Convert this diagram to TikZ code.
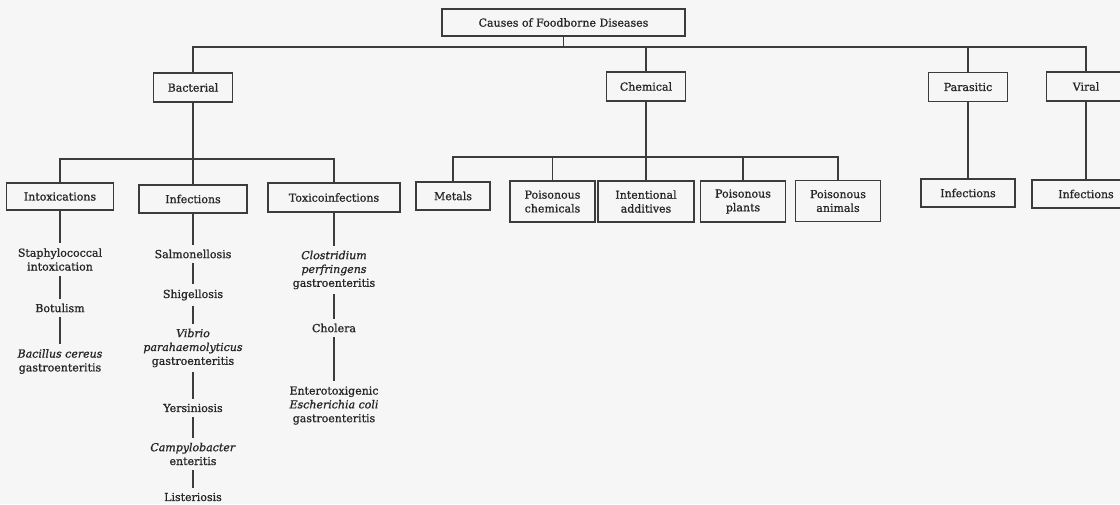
\documentclass[tikz,border=0pt]{standalone}
\usepackage{fontspec}
\setmainfont{DejaVu Serif}[FakeBold=1]
\definecolor{ln}{HTML}{3C3C3C}
\definecolor{txt}{HTML}{262626}
\definecolor{bg}{HTML}{F6F6F6}
\begin{document}
\begin{tikzpicture}[x=1pt,y=-1pt,
  every node/.style={font=\fontsize{11}{13.8}\selectfont, text=txt},
  box/.style={draw=ln, line width=1.1pt, fill=bg, minimum height=28pt, inner sep=0pt, align=center},
  box2/.style={box, minimum height=41pt},
  leaf/.style={align=center, inner xsep=2pt, inner ysep=5pt},
  conn/.style={draw=ln, line width=1.1pt}]
\fill[bg] (0,0) rectangle (1120,504);
\useasboundingbox (0,0) rectangle (1120,504);
% level 0 and 1
\node[box, minimum width=243pt, minimum height=27pt] (top) at (563.5,22.5) {Causes of Foodborne Diseases};
\node[box, minimum width=79pt, minimum height=29pt] (bact) at (193,87.5) {Bacterial};
\node[box, minimum width=79pt, minimum height=29pt] (chem) at (646,86.5) {Chemical};
\node[box, minimum width=79pt, minimum height=29pt] (para) at (968,87) {Parasitic};
\node[box, minimum width=79pt, minimum height=29pt] (viral) at (1086,86.5) {Viral};
% level 2
\node[box, minimum width=107pt, minimum height=27pt] (intox) at (60,196.5) {Intoxications};
\node[box, minimum width=108pt] (inf) at (193,199) {Infections};
\node[box, minimum width=132pt, minimum height=29pt] (toxi) at (334,197.5) {Toxicoinfections};
\node[box, minimum width=74pt] (metals) at (453,196) {Metals};
\node[box2, minimum width=85pt] (pchem) at (552.5,201.5) {Poisonous\\chemicals};
\node[box2, minimum width=96pt] (addit) at (646,201.5) {Intentional\\additives};
\node[box2, minimum width=85pt] (plants) at (743,201.5) {Poisonous\\plants};
\node[box2, minimum width=85pt] (animals) at (838,201) {Poisonous\\animals};
\node[box, minimum width=94pt] (pinf) at (968,193) {Infections};
\node[box, minimum width=108pt] (vinf) at (1086,194) {Infections};
% leaves
\node[leaf] (staph) at (60,259.5) {Staphylococcal\\intoxication};
\node[leaf] (botu) at (60,308) {Botulism};
\node[leaf] (bacil) at (60,361.5) {\textit{Bacillus cereus}\\gastroenteritis};
\node[leaf] (salm) at (193,254) {Salmonellosis};
\node[leaf] (shig) at (193,295) {Shigellosis};
\node[leaf] (vibr) at (193,348) {\textit{Vibrio}\\\textit{parahaemolyticus}\\gastroenteritis};
\node[leaf] (yers) at (193,408) {Yersiniosis};
\node[leaf] (campy) at (193,454) {\textit{Campylobacter}\\enteritis};
\node[leaf] (list) at (193,497) {Listeriosis};
\node[leaf] (clos) at (334,270) {\textit{Clostridium}\\\textit{perfringens}\\gastroenteritis};
\node[leaf] (chol) at (334,328) {Cholera};
\node[leaf] (ente) at (334,405.5) {Enterotoxigenic\\\textit{Escherichia coli}\\gastroenteritis};
% bus coordinates
\coordinate (tb) at (0,47);
\coordinate (bb) at (0,159);
\coordinate (cb) at (0,157);
% connectors
\draw[conn] (bact.north) -- (bact.north |- tb) -| (viral.north);
\draw[conn] (top.south) -- (top.south |- tb);
\draw[conn] (chem.north) -- (chem.north |- tb);
\draw[conn] (para.north) -- (para.north |- tb);
\draw[conn] (bact.south) -- (inf.north);
\draw[conn] (intox.north) -- (intox.north |- bb) -| (toxi.north);
\draw[conn] (chem.south) -- (addit.north);
\draw[conn] (metals.north) -- (metals.north |- cb) -| (animals.north);
\draw[conn] (pchem.north) -- (pchem.north |- cb);
\draw[conn] (plants.north) -- (plants.north |- cb);
\draw[conn] (para.south) -- (pinf.north);
\draw[conn] (viral.south) -- (vinf.north);
\draw[conn] (intox.south) -- (staph.north);
\draw[conn] (staph.south) -- (botu.north);
\draw[conn] (botu.south) -- (bacil.north);
\draw[conn] (inf.south) -- (salm.north);
\draw[conn] (salm.south) -- (shig.north);
\draw[conn] (shig.south) -- (vibr.north);
\draw[conn] (vibr.south) -- (yers.north);
\draw[conn] (yers.south) -- (campy.north);
\draw[conn] (campy.south) -- (list.north);
\draw[conn] (toxi.south) -- (clos.north);
\draw[conn] (clos.south) -- (chol.north);
\draw[conn] (chol.south) -- (ente.north);
\end{tikzpicture}
\end{document}
